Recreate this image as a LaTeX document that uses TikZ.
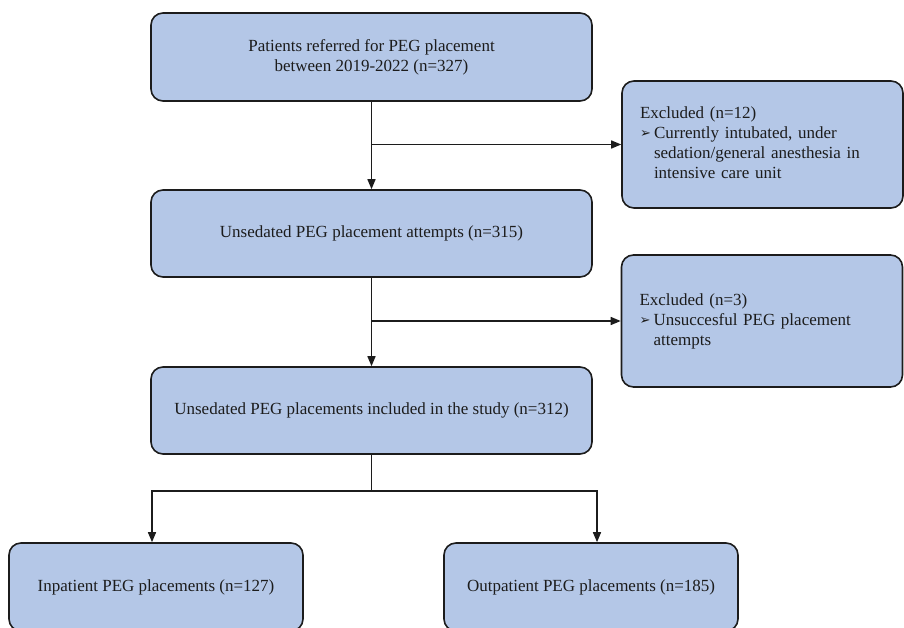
\documentclass[tikz,border=0pt]{standalone}
\usepackage{fontspec}
\setmainfont{Liberation Serif}
\newfontfamily\dejavu{DejaVu Sans}
\usetikzlibrary{arrows.meta}
\definecolor{boxfill}{HTML}{B4C7E7}
\definecolor{inkdark}{HTML}{1C1C1C}
\newcommand{\bulmark}{\makebox[14pt][l]{\raisebox{1pt}{\dejavu\fontsize{13}{13}\selectfont ➢}}}
\tikzset{
  flowbox/.style={draw=inkdark, fill=boxfill, line width=1.6pt, rounded corners=12pt,
    align=center, text=inkdark, font=\fontsize{17}{20}\selectfont, inner sep=0pt},
  exbox/.style={flowbox, align=left, text width=245pt, inner xsep=18pt},
  arr/.style={draw=inkdark, line width=1.5pt, -{Triangle[length=10pt,width=8pt]}},
  conn/.style={draw=inkdark, line width=1.5pt}
}
\begin{document}
\begin{tikzpicture}[x=1pt,y=-1pt]
\useasboundingbox (0,0) rectangle (904,628);
\clip (0,0) rectangle (904,628);
\node[flowbox, minimum width=441pt, minimum height=88pt] (top) at (371.5,57)
  {Patients referred for PEG placement\\between 2019-2022 (n=327)};
\node[exbox, minimum height=127pt] (ex1) at (762.5,144.5)
  {\begin{tabular}{@{}l@{}l@{}}
   \multicolumn{2}{@{}l@{}}{Excluded (n=12)}\\
   \bulmark & Currently intubated, under\\
   & sedation/general anesthesia in\\
   & intensive care unit
   \end{tabular}};
\node[flowbox, minimum width=441pt, minimum height=87pt] (box2) at (371.5,233.5)
  {Unsedated PEG placement attempts (n=315)};
\node[exbox, minimum height=132pt] (ex2) at (762,321)
  {\begin{tabular}{@{}l@{}l@{}}
   \multicolumn{2}{@{}l@{}}{Excluded (n=3)}\\
   \bulmark & Unsuccesful PEG placement\\
   & attempts
   \end{tabular}};
\node[flowbox, minimum width=441pt, minimum height=87pt] (box3) at (371.5,410.5)
  {Unsedated PEG placements included in the study (n=312)};
\node[flowbox, minimum width=294pt, minimum height=88pt] (inp) at (156,587)
  {Inpatient PEG placements (n=127)};
\node[flowbox, minimum width=294pt, minimum height=88pt] (outp) at (591,587)
  {Outpatient PEG placements (n=185)};
\coordinate (split) at (371.5,491);
% connectors
\draw[arr] (top.south) -- (box2.north);
\draw[arr] (top.south |- ex1.west) -- (ex1.west);
\draw[arr] (box2.south) -- (box3.north);
\draw[arr] (box2.south |- ex2.west) -- (ex2.west);
\draw[conn] (box3.south) -- (split);
\draw[arr] (split) -| ([xshift=-4pt]inp.north);
\draw[arr] (split) -| ([xshift=6pt]outp.north);
\end{tikzpicture}
\end{document}
